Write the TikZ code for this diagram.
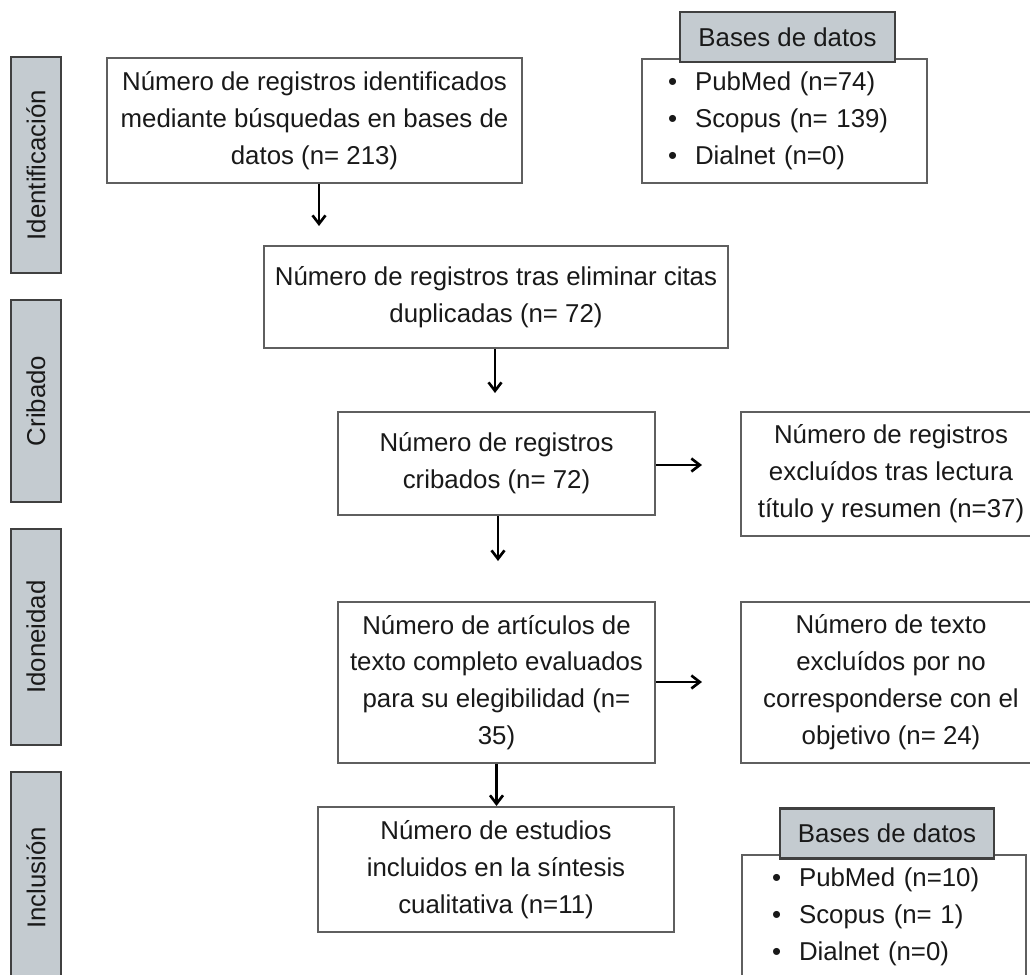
\documentclass[tikz,border=0pt]{standalone}
\usepackage{fontspec}
\setmainfont{Liberation Sans}
\usetikzlibrary{arrows.meta}
\definecolor{grisfase}{RGB}{196,203,208}
\definecolor{bordecaja}{RGB}{95,95,95}
\definecolor{bordefase}{RGB}{64,64,64}
\definecolor{texto}{RGB}{25,25,25}
\newcommand{\punto}{\makebox[0.54cm][l]{\textbullet}}
\tikzset{
    letra/.style={font=\fontsize{14.7pt}{21pt}\selectfont, text=texto},
    caja/.style={letra, draw=bordecaja, line width=1.2pt, fill=white, align=center, inner sep=0pt},
    lista/.style={caja, align=left},
    fase/.style={letra, draw=bordefase, line width=1.2pt, fill=grisfase, rotate=90, minimum height=1cm, inner sep=0pt},
    cabecera/.style={letra, draw=bordefase, line width=1.2pt, fill=grisfase, minimum width=4.3cm, minimum height=1cm, inner sep=0pt},
    flecha/.style={-{Straight Barb[length=1.7mm,width=2.6mm]}, line width=1.5pt, black}
}
\begin{document}
\begin{tikzpicture}[x=0.02cm, y=-0.02cm]
    \clip 
        (0,0) rectangle (1030,974);
    \node[fase, minimum width=4.32cm] (ident) at (36,165) {Identificación};
    \node[fase, minimum width=4.04cm] (crib) at (36,401) {Cribado};
    \node[fase, minimum width=4.32cm] (idon) at (36,637) {Idoneidad};
    \node[fase, minimum width=4.24cm] (inclu) at (36,878) {Inclusión};

    \node[caja, minimum width=8.3cm, minimum height=2.5cm] (reg) at (314.5,120.5)
        {Número de registros identificados\\mediante búsquedas en bases de\\datos (n= 213)};
    \node[caja, minimum width=9.28cm, minimum height=2.04cm] (dupl) at (496,297)
        {Número de registros tras eliminar citas\\duplicadas (n= 72)};
    \node[caja, minimum width=6.34cm, minimum height=2.06cm] (cribados) at (496.5,463.5)
        {Número de registros\\cribados (n= 72)};
    \node[caja, minimum width=6cm, minimum height=2.48cm] (excl) at (891,474)
        {Número de registros\\excluídos tras lectura\\título y resumen (n=37)};
    \node[caja, minimum width=6.34cm, minimum height=3.22cm] (eleg) at (496.5,682.5)
        {Número de artículos de\\texto completo evaluados\\para su elegibilidad (n=\\35)};
    \node[caja, minimum width=6cm, minimum height=3.22cm] (excltexto) at (891,682.5)
        {Número de texto\\excluídos por no\\corresponderse con el\\objetivo (n= 24)};
    \node[caja, minimum width=7.12cm, minimum height=2.5cm] (incl) at (496,869.5)
        {Número de estudios\\incluidos en la síntesis\\cualitativa (n=11)};

    \node[lista, text width=4.66cm, inner xsep=0.52cm, minimum height=2.48cm] (bases1) at (784.5,121)
        {\punto PubMed (n=74)\\\punto Scopus (n= 139)\\\punto Dialnet (n=0)};
    \node[cabecera] (cab1) at (787.5,37) {Bases de datos};
    \node[lista, text width=4.48cm, inner xsep=0.6cm, minimum height=2.48cm] (bases2) at (884,917)
        {\punto PubMed (n=10)\\\punto Scopus (n= 1)\\\punto Dialnet (n=0)};
    \node[cabecera, minimum width=4.28cm] (cab2) at (887,833.5) {Bases de datos};

    \coordinate (f1) at (319,226);
    \coordinate (f2) at (495,393);
    \coordinate (f3) at (498,561);
    \coordinate (f4) at (702,465);
    \coordinate (f5) at (702,682);
    \draw 
        [flecha] (reg.south -| f1)--(f1);
    \draw 
        [flecha] (dupl.south -| f2)--(f2);
    \draw 
        [flecha] (cribados.south -| f3)--(f3);
    \draw 
        [flecha] (eleg.south)--(eleg.south |- incl.north);
    \draw 
        [flecha] (cribados.east |- f4)--(f4);
    \draw 
        [flecha] (eleg.east |- f5)--(f5);
\end{tikzpicture}
\end{document}
